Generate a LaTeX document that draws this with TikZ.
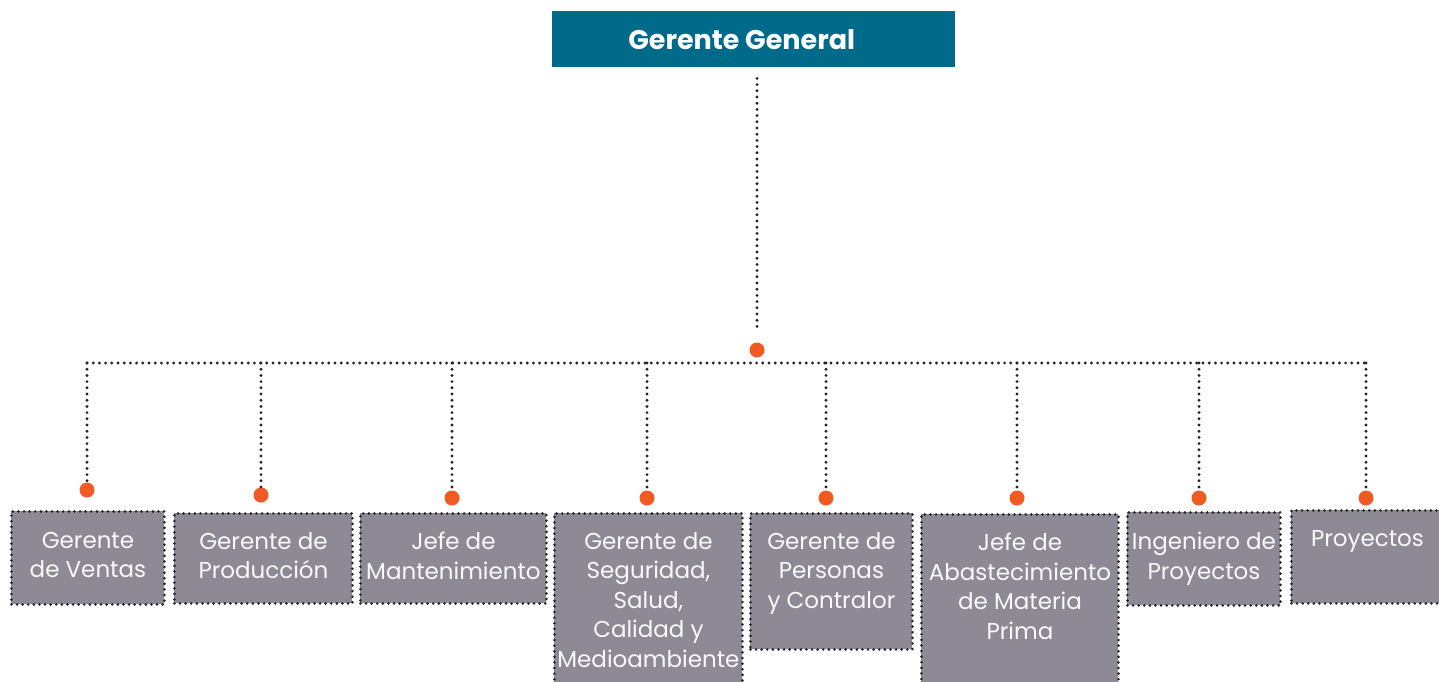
\documentclass[tikz,border=0pt]{standalone}
\usepackage{fontspec}
\setmainfont{Poppins}
\usepackage{xcolor}

\definecolor{headteal}{RGB}{0,106,138}
\definecolor{unitgray}{RGB}{142,138,149}
\definecolor{hubred}{RGB}{241,90,34}
\definecolor{dotink}{RGB}{35,35,40}

\begin{document}
\begin{tikzpicture}[x=1pt,y=-1pt,
    dotrule/.style={dotink, line width=3.2pt, line cap=round, dash pattern=on 0pt off 6.2pt},
    unit/.style={draw=dotink, fill=unitgray, line width=2.9pt, line cap=round,
      dash pattern=on 0pt off 5.6pt, anchor=north west, inner sep=0pt},
    unitname/.style={anchor=north, inner sep=0pt, align=center, text=white!95!gray,
      font=\fontsize{23}{29.5}\selectfont},
    hubdot/.style={circle, fill=hubred, inner sep=0pt, minimum size=15pt}]

      \useasboundingbox (0,0) rectangle (1439,681);

      % Head of the chart
      \node[fill=headteal, anchor=north west, inner sep=0pt,
        minimum width=403pt, minimum height=56pt] (gg) at (552,11) {};
      \node[text=white, inner sep=0pt, font=\fontsize{27}{32}\selectfont\bfseries]
        (gg-t) at ([xshift=-12pt]gg.center) {Gerente General};

      % Units
      \node[unit, minimum width=153pt, minimum height=93pt] (ventas) at (10,510) {};
      \node[unit, minimum width=178pt, minimum height=90pt] (produccion) at (173,512) {};
      \node[unit, minimum width=186pt, minimum height=90pt] (mantenimiento) at (359,512) {};
      \node[unit, minimum width=188pt, minimum height=175pt] (seguridad) at (553,512) {};
      \node[unit, minimum width=162pt, minimum height=136pt] (personas) at (749,512) {};
      \node[unit, minimum width=197pt, minimum height=175pt] (abastecimiento) at (920,513) {};
      \node[unit, minimum width=153pt, minimum height=93pt] (ingeniero) at (1126,511) {};
      \node[unit, minimum width=152pt, minimum height=93pt] (proyectos) at (1290,509) {};

      % Unit names
      \node[unitname] (ventas-t) at ([yshift=-22pt]ventas.north) {Gerente\\de Ventas};
      \node[unitname] (produccion-t) at ([yshift=-20pt]produccion.north) {Gerente de\\Producción};
      \node[unitname] (mantenimiento-t) at ([yshift=-20pt]mantenimiento.north) {Jefe de\\Mantenimiento};
      \node[unitname] (seguridad-t) at ([yshift=-20pt]seguridad.north)
        {Gerente de\\Seguridad,\\Salud,\\Calidad y\\Medioambiente};
      \node[unitname] (personas-t) at ([yshift=-20pt]personas.north) {Gerente de\\Personas\\y Contralor};
      \node[unitname] (abastecimiento-t) at ([yshift=-20pt]abastecimiento.north)
        {Jefe de\\Abastecimiento\\de Materia\\Prima};
      \node[unitname] (ingeniero-t) at ([yshift=-21pt]ingeniero.north) {Ingeniero de\\Proyectos};
      \node[unitname] (proyectos-t) at ([yshift=-21pt]proyectos.north) {Proyectos};

      % Hub and unit dots
      \coordinate (bus) at (757,363);
      \node[hubdot] (hub) at (757,350) {};
      \node[hubdot] (ventas-dot) at (87,490) {};
      \node[hubdot] (produccion-dot) at (261,495) {};
      \node[hubdot] (mantenimiento-dot) at (452,498) {};
      \node[hubdot] (seguridad-dot) at (647,498) {};
      \node[hubdot] (personas-dot) at (826,498) {};
      \node[hubdot] (abastecimiento-dot) at (1017,498) {};
      \node[hubdot] (ingeniero-dot) at (1199,498) {};
      \node[hubdot] (proyectos-dot) at (1366,498) {};

      % Connectors
      \coordinate (gg-foot) at (gg.south -| hub);
      \draw[dotrule] ([yshift=-11pt]gg-foot) -- ([yshift=10pt]hub.north);
      \draw[dotrule] (ventas-dot |- bus) -- (proyectos-dot |- bus);
      \foreach \d in {ventas,produccion,mantenimiento,seguridad,personas,abastecimiento,ingeniero,proyectos} {
          \draw[dotrule] (\d-dot |- bus) -- (\d-dot.north);
        }
    \end{tikzpicture}
\end{document}
